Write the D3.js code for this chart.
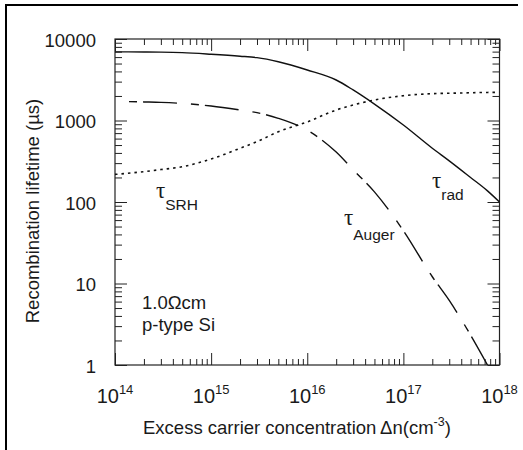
<!DOCTYPE html>
<html>
<head>
<meta charset="utf-8">
<script src="https://cdn.jsdelivr.net/npm/d3@7"></script>
<style>
body{margin:0;background:#fff;}
svg{display:block;font-family:"Liberation Sans",Arial,Helvetica,sans-serif;}
</style>
</head>
<body>
<svg id="chart" width="523" height="450"></svg>
<script>
//Excess carrier concentration (cm^-3) where the curves were read
var carrierConc = [1e14, 2e14, 3e14, 5e14, 1e15, 2e15, 3e15, 5e15, 1e16, 2e16, 3e16, 5e16, 1e17, 2e17, 3e17, 5e17, 7.5e17, 1e18];
//Recombination lifetimes (us)
var tauRad = [6950, 6930, 6900, 6800, 6500, 6150, 5900, 5260, 4170, 3140, 2370, 1590, 880, 457, 320, 200, 137, 100];
var tauSRH = [218, 236, 250, 271, 337, 456, 550, 728, 960, 1345, 1550, 1785, 2015, 2135, 2160, 2190, 2210, 2220];
var tauAuger = [1720, 1690, 1670, 1620, 1505, 1345, 1248, 1064, 760, 410, 249, 133, 44.5, 12.1, 6.2, 2.33, 1.0, null];
//Tick labels
var xTickExp = ["14", "15", "16", "17", "18"];
var yTickLabels = ["1", "10", "100", "1000", "10000"];

//Set up the plot box
var boxLeft = 115, boxRight = 499.5, boxTop = 39, boxBottom = 365;

var svg = d3.select("#chart");

//Cropped frame of the original figure (top and left only)
svg.append("line").attr("x1", 5).attr("x2", 518).attr("y1", 5).attr("y2", 5)
    .attr("stroke", "#000").attr("stroke-width", 2.2);
svg.append("line").attr("x1", 6).attr("x2", 6).attr("y1", 4).attr("y2", 450)
    .attr("stroke", "#000").attr("stroke-width", 2);

//Scales
var x = d3.scaleLog().domain([1e14, 1e18]).range([boxLeft, boxRight]);
var y = d3.scaleLog().domain([1, 1e4]).range([boxBottom, boxTop]);

//Split the log ticks into decades and minor ticks
function isDecade(v){ return Math.abs(Math.log10(v) - Math.round(Math.log10(v))) < 1e-9; }
var xAll = x.ticks(), yAll = y.ticks();
var xMajor = xAll.filter(isDecade), xMinor = xAll.filter(function(v){ return !isDecade(v); });
var yMajor = yAll.filter(isDecade), yMinor = yAll.filter(function(v){ return !isDecade(v); });

//Draw inward ticks on all four sides
function drawAxis(axisFn, scale, values, size, tx, ty){
    var g = svg.append("g").attr("transform", "translate(" + tx + "," + ty + ")")
        .call(axisFn(scale).tickValues(values).tickSize(-size).tickFormat(""));
    g.select(".domain").remove();
    g.selectAll("line").attr("stroke", "#222").attr("stroke-width", 1);
}
drawAxis(d3.axisBottom, x, xMinor, 6, 0, boxBottom);
drawAxis(d3.axisBottom, x, xMajor, 12, 0, boxBottom);
drawAxis(d3.axisTop, x, xMinor, 6, 0, boxTop);
drawAxis(d3.axisTop, x, xMajor, 12, 0, boxTop);
drawAxis(d3.axisLeft, y, yMinor, 7, boxLeft, 0);
drawAxis(d3.axisLeft, y, yMajor, 12, boxLeft, 0);
drawAxis(d3.axisRight, y, yMinor, 7, boxRight, 0);
drawAxis(d3.axisRight, y, yMajor, 12, boxRight, 0);

//Plot box
svg.append("rect").attr("x", boxLeft).attr("y", boxTop)
    .attr("width", boxRight - boxLeft).attr("height", boxBottom - boxTop)
    .attr("fill", "none").attr("stroke", "#222").attr("stroke-width", 1.2);

//Clip the curves to the plot box
svg.append("clipPath").attr("id", "plotClip").append("rect")
    .attr("x", boxLeft).attr("y", boxTop).attr("width", boxRight - boxLeft).attr("height", boxBottom - boxTop);

//Build a line from one of the lifetime arrays
function lifetimeLine(values){
    return d3.line()
        .defined(function(d, i){ return values[i] != null; })
        .x(function(d, i){ return x(carrierConc[i]); })
        .y(function(d, i){ return y(values[i]); })
        .curve(d3.curveMonotoneX)(carrierConc);
}

var curves = svg.append("g").attr("clip-path", "url(#plotClip)")
    .attr("fill", "none").attr("stroke", "#111");

curves.append("path").attr("d", lifetimeLine(tauRad)).attr("stroke-width", 1.4);
curves.append("path").attr("d", lifetimeLine(tauSRH)).attr("stroke-width", 1.6)
    .attr("stroke-dasharray", "2.5,4");
curves.append("path").attr("d", lifetimeLine(tauAuger)).attr("stroke-width", 1.4)
    .attr("stroke-dasharray", "34,14,8,6").attr("stroke-dashoffset", 34);

//Y tick labels
svg.append("g").selectAll("text").data(yMajor).enter().append("text")
    .attr("x", 96).attr("y", function(d){ return y(d) + 7.5; })
    .attr("text-anchor", "end").attr("font-size", 18.5).attr("fill", "#1a1a1a")
    .text(function(d, i){ return yTickLabels[i]; });

//X tick labels with superscript exponents
var xLabels = svg.append("g").selectAll("text").data(xMajor).enter().append("text")
    .attr("x", function(d){ return x(d); }).attr("y", 403)
    .attr("text-anchor", "middle").attr("font-size", 20).attr("fill", "#1a1a1a");
xLabels.append("tspan").text("10");
xLabels.append("tspan").attr("dy", -9).attr("font-size", 13).text(function(d, i){ return xTickExp[i]; });

//Axis titles
var xTitle = svg.append("text").attr("x", 143).attr("y", 434)
    .attr("font-size", 18.5).attr("fill", "#1a1a1a");
xTitle.append("tspan").text("Excess carrier concentration\u2009\u0394n(cm");
xTitle.append("tspan").attr("dy", -8).attr("font-size", 12.5).text("-3");
xTitle.append("tspan").attr("dy", 8).text(")");

svg.append("text").attr("transform", "translate(39,211) rotate(-90)")
    .attr("text-anchor", "middle").attr("font-size", 18.5).attr("fill", "#1a1a1a")
    .text("Recombination lifetime (\u00b5s)");

//Sample annotation
svg.append("text").attr("x", 142).attr("y", 309).attr("font-size", 18.5).attr("fill", "#1a1a1a")
    .text("1.0\u03a9cm");
svg.append("text").attr("x", 142).attr("y", 331).attr("font-size", 18.5).attr("fill", "#1a1a1a")
    .text("p-type Si");

//Curve labels: tau with subscript
function tauLabel(px, py, sub, drop){
    var t = svg.append("text").attr("x", px).attr("y", py).attr("fill", "#1a1a1a");
    t.append("tspan").attr("font-family", "'Liberation Serif','DejaVu Serif',serif")
        .attr("font-size", 23).text("\u03c4");
    t.append("tspan").attr("dy", drop).attr("font-size", 15.5).text(sub);
}
tauLabel(156, 198, "SRH", 12);
tauLabel(432, 188, "rad", 12);
tauLabel(344, 225, "Auger", 15);
</script>
</body>
</html>
